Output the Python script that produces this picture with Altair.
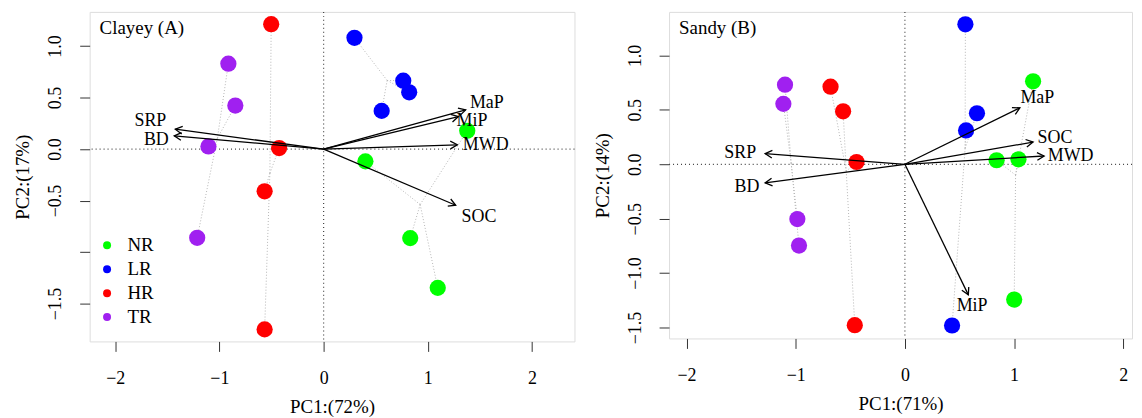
import altair as alt
import pandas as pd
import numpy as np

# ---------------- data ----------------
groups = ["NR", "LR", "HR", "TR"]
group_colors = ["#00ff00", "#0000ff", "#ff0000", "#a020f0"]
point_group = ["NR"] * 4 + ["LR"] * 4 + ["HR"] * 4 + ["TR"] * 4

# Panel A (Clayey) sample scores
a_pc1 = [1.378, 0.401, 0.831, 1.095, 0.296, 0.764, 0.821, 0.557,
         -0.503, -0.427, -0.566, -0.566, -0.914, -0.847, -1.105, -1.213]
a_pc2 = [0.178, -0.119, -0.864, -1.347, 1.080, 0.664, 0.551, 0.371,
         1.213, 0.010, -0.410, -1.750, 0.829, 0.423, 0.026, -0.861]
# Panel A loadings and label positions
a_vars = ["MaP", "MiP", "MWD", "SOC", "SRP", "BD"]
a_load1 = [1.363, 1.293, 1.283, 1.267, -1.423, -1.433]
a_load2 = [0.381, 0.316, 0.042, -0.545, 0.193, 0.129]
a_lab1 = [1.566, 1.423, 1.555, 1.490, -1.662, -1.605]
a_lab2 = [0.445, 0.268, 0.036, -0.664, 0.272, 0.086]

# Panel B (Sandy) sample scores
b_pc1 = [1.174, 0.840, 1.040, 1.001, 0.554, 0.660, 0.560, 0.432,
         -0.681, -0.566, -0.443, -0.459, -1.098, -1.113, -0.985, -0.970]
b_pc2 = [0.762, 0.037, 0.046, -1.243, 1.286, 0.469, 0.311, -1.481,
         0.713, 0.487, 0.021, -1.478, 0.731, 0.555, -0.503, -0.747]
b_vars = ["MaP", "SOC", "MWD", "MiP", "SRP", "BD"]
b_load1 = [1.053, 1.174, 1.275, 0.581, -1.280, -1.280]
b_load2 = [0.518, 0.204, 0.076, -1.200, 0.098, -0.171]
b_lab1 = [1.213, 1.374, 1.518, 0.615, -1.508, -1.447]
b_lab2 = [0.610, 0.244, 0.076, -1.298, 0.103, -0.207]

x_ticks = [-2, -1, 0, 1, 2]
y_ticks = [-1.5, -1.0, -0.5, 0.0, 0.5, 1.0]

FONT = "Liberation Serif"
ARROW_HEAD = "M-1,-0.55L0,0L-1,0.55"

color_enc = alt.Color(
    "grp:N",
    scale=alt.Scale(domain=groups, range=group_colors),
    legend=alt.Legend(
        orient="none", legendX=8, legendY=225, title=None,
        symbolType="circle", symbolSize=64, symbolStrokeWidth=0,
        labelFont=FONT, labelFontSize=19, labelOffset=11, rowPadding=4,
        padding=0, labelColor="black",
    ),
)


def panel(pc1, pc2, vnames, l1, l2, t1, t2, xdom, ydom, w, h,
          xtitle, ytitle, tag, label_expr=None):
    pts = pd.DataFrame({"grp": point_group, "x": pc1, "y": pc2})
    pts["cx"] = pts.groupby("grp")["x"].transform("mean")
    pts["cy"] = pts.groupby("grp")["y"].transform("mean")

    sx = w / (xdom[1] - xdom[0])
    sy = h / (ydom[1] - ydom[0])
    arr = pd.DataFrame({"v": vnames, "x": l1, "y": l2, "tx": t1, "ty": t2})
    arr["ox"] = 0.0
    arr["oy"] = 0.0
    arr["ang"] = np.degrees(np.arctan2(-arr["y"] * sy, arr["x"] * sx)) % 360

    xs = alt.Scale(domain=xdom, nice=False, zero=False)
    ys = alt.Scale(domain=ydom, nice=False, zero=False)
    yaxis_kw = dict(
        values=y_ticks, format=".1f", title=ytitle, grid=False, domain=False,
        tickSize=10, tickColor="#333", labelAngle=270, labelAlign="center",
        labelBaseline="bottom", labelPadding=15, labelFont=FONT,
        labelFontSize=18, labelColor="black", labelOverlap=False,
        labelFlush=False, titleFont=FONT, titleFontSize=19,
        titleFontWeight="normal", titleColor="black", titlePadding=14,
    )
    if label_expr:
        yaxis_kw["labelExpr"] = label_expr
    xaxis = alt.Axis(
        values=x_ticks, format="d", title=xtitle, grid=False, domain=False,
        tickSize=10, tickColor="#333", labelPadding=18, labelFont=FONT,
        labelFontSize=18, labelColor="black", labelOverlap=False,
        labelFlush=False, titleFont=FONT, titleFontSize=19,
        titleFontWeight="normal", titleColor="black", titlePadding=10,
    )
    yaxis = alt.Axis(**yaxis_kw)

    zero = pd.DataFrame({"z": [0.0]})
    vline = alt.Chart(zero).mark_rule(color="#444", strokeDash=[1, 3], strokeWidth=1.2).encode(
        x=alt.X("z:Q", scale=xs, axis=xaxis))
    hline = alt.Chart(zero).mark_rule(color="#444", strokeDash=[1, 3], strokeWidth=1.2).encode(
        y=alt.Y("z:Q", scale=ys, axis=yaxis))

    spider = alt.Chart(pts).mark_rule(color="#b5b5b5", strokeDash=[1, 2], strokeWidth=1).encode(
        x=alt.X("cx:Q", scale=xs), y=alt.Y("cy:Q", scale=ys), x2="x:Q", y2="y:Q")
    dots = alt.Chart(pts).mark_circle(size=265, opacity=1).encode(
        x=alt.X("x:Q", scale=xs), y=alt.Y("y:Q", scale=ys), color=color_enc)
    arrows = alt.Chart(arr).mark_rule(color="black", strokeWidth=1.3).encode(
        x=alt.X("ox:Q", scale=xs), y=alt.Y("oy:Q", scale=ys), x2="x:Q", y2="y:Q")
    heads = alt.Chart(arr).mark_point(
        shape=ARROW_HEAD, filled=False, color="black", strokeWidth=1.3,
        size=196, opacity=1).encode(
        x=alt.X("x:Q", scale=xs), y=alt.Y("y:Q", scale=ys),
        angle=alt.Angle("ang:Q", scale=None))
    labels = alt.Chart(arr).mark_text(
        font=FONT, fontSize=18, color="black", align="center", baseline="middle").encode(
        x=alt.X("tx:Q", scale=xs), y=alt.Y("ty:Q", scale=ys), text="v:N")
    tagc = alt.Chart(pd.DataFrame({"t": [tag]})).mark_text(
        font=FONT, fontSize=19, color="black", align="left", baseline="middle").encode(
        x=alt.value(10), y=alt.value(16), text="t:N")

    return alt.layer(vline, hline, spider, dots, arrows, heads, labels, tagc).properties(
        width=w, height=h)


pA = panel(a_pc1, a_pc2, a_vars, a_load1, a_load2, a_lab1, a_lab2,
           [-2.245, 2.407], [-1.867, 1.332], 487, 331,
           "PC1:(72%)", "PC2:(17%)", "Clayey (A)",
           label_expr="datum.value == -1 ? '' : datum.label")
pB = panel(b_pc1, b_pc2, b_vars, b_load1, b_load2, b_lab1, b_lab2,
           [-2.16, 2.08], [-1.60, 1.40], 465, 328,
           "PC1:(71%)", "PC2:(14%)", "Sandy (B)")

chart = alt.hconcat(pA, pB, spacing=16).properties(
    padding={"left": 5, "top": 1, "right": 0, "bottom": 0}
).configure_view(stroke="#333", strokeWidth=1.2).configure(font=FONT, background="white")

chart.save("out.html", embed_options={"renderer": "svg", "actions": False})
